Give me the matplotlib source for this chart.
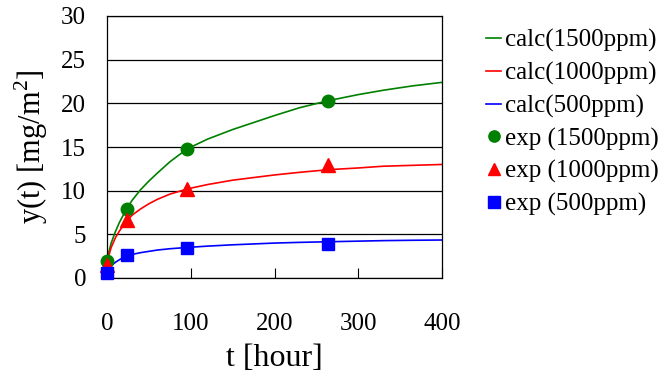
import matplotlib
matplotlib.use("Agg")
import matplotlib.pyplot as plt

# calc curves
t_calc = [0, 2, 5, 10, 15, 20, 24, 30, 40, 50, 60, 75, 96, 120, 150, 175, 200, 230, 264, 300, 330, 365, 400]
calc_1500 = [1.6, 2.9, 4.0, 5.3, 6.4, 7.3, 8.0, 8.9, 10.1, 11.1, 12.0, 13.3, 14.8, 15.9, 17.0, 17.8, 18.6, 19.5, 20.3, 21.0, 21.5, 22.0, 22.4]
calc_1000 = [1.2, 2.5, 3.5, 4.6, 5.4, 6.1, 6.6, 7.2, 7.9, 8.5, 9.0, 9.6, 10.2, 10.7, 11.2, 11.5, 11.8, 12.1, 12.4, 12.6, 12.8, 12.9, 13.0]
calc_500 = [0.6, 1.0, 1.4, 1.8, 2.1, 2.35, 2.5, 2.7, 2.9, 3.05, 3.2, 3.35, 3.5, 3.65, 3.8, 3.9, 4.0, 4.08, 4.15, 4.22, 4.28, 4.32, 4.35]

# experimental points
t_exp = [0, 24, 96, 264]
exp_1500 = [1.9, 7.9, 14.8, 20.3]
exp_1000 = [1.5, 6.6, 10.2, 12.9]
exp_500 = [0.6, 2.6, 3.4, 3.9]

plt.rcParams['font.family'] = ['Liberation Serif', 'DejaVu Serif']
plt.rcParams['mathtext.fontset'] = 'custom'
plt.rcParams['mathtext.rm'] = 'Liberation Serif'

fig = plt.figure(figsize=(6.61, 3.81), dpi=100)
ax = fig.add_axes([107 / 661, 1 - 278 / 381, 335 / 661, 262 / 381])

lw = 1.2
ax.plot(t_calc, calc_1500, color='#008000', lw=lw, label='calc(1500ppm)')
ax.plot(t_calc, calc_1000, color='#ff0000', lw=lw, label='calc(1000ppm)')
ax.plot(t_calc, calc_500, color='#0000ff', lw=lw, label='calc(500ppm)')
ax.plot(t_exp, exp_1500, 'o', color='#008000', ms=9, clip_on=False, zorder=5, label='exp (1500ppm)')
ax.plot(t_exp, exp_1000, '^', color='#ff0000', ms=9.5, clip_on=False, zorder=5, label='exp (1000ppm)')
ax.plot(t_exp, exp_500, 's', color='#0000ff', ms=9, clip_on=False, zorder=5, label='exp (500ppm)')

ax.set_xlim(0, 400)
ax.set_ylim(0, 30)
ax.set_xticks([0, 100, 200, 300, 400])
ax.set_yticks([0, 5, 10, 15, 20, 25, 30])
ax.yaxis.grid(True, color='black', lw=0.9)
ax.set_axisbelow(True)
ax.tick_params(axis='x', direction='in', length=7, pad=25, labelsize=18)
ax.tick_params(axis='y', length=0, pad=15, labelsize=18)
for s in ax.spines.values():
    s.set_linewidth(0.9)

ax.set_xlabel('t [hour]', fontsize=23, labelpad=7)
ax.set_ylabel('y(t) [mg/m$^\\mathregular{2}$]', fontsize=22, labelpad=8)

fig.legend(loc='upper left', bbox_to_anchor=(476 / 661, 1 - 19 / 381), frameon=False,
           fontsize=18, handlelength=0.6, handletextpad=0.15, labelspacing=0.39,
           borderaxespad=0, markerscale=0.9)

fig.savefig('out.png', dpi=100)
